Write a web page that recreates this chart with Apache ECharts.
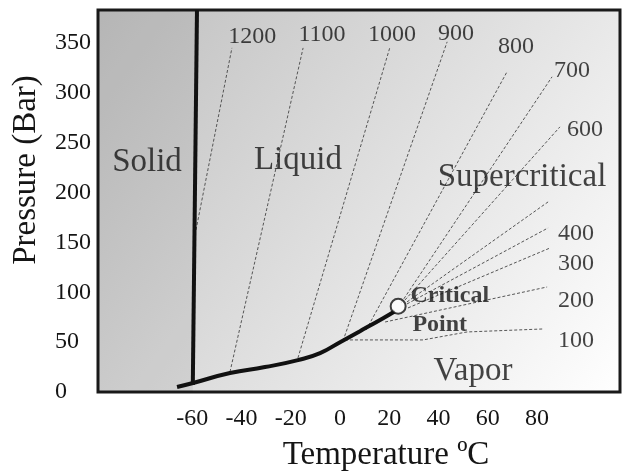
<!DOCTYPE html>
<html>
<head>
<meta charset="utf-8">
<script src="https://cdn.jsdelivr.net/npm/echarts@6/dist/echarts.min.js"></script>
<style>
html, body { margin: 0; padding: 0; background: #fff; }
#main { width: 624px; height: 473px; }
</style>
</head>
<body>
<div id="main"></div>
<script>
// tick labels
var tempTicks = [-60, -40, -20, 0, 20, 40, 60, 80];
var pressTicks = [0, 50, 100, 150, 200, 250, 300, 350];

// phase boundaries (T in degC, P in bar)
var meltLine = [[-59.8, 7], [-58.1, 383]];
var vaporCurve = [[-66.2, 5], [-59.7, 9], [-44.7, 19], [-30.5, 25], [-17.1, 32],
                  [-8.1, 39], [0, 50], [8.1, 61], [17.5, 74], [22.3, 81]];
var criticalPoint = [[23.6, 86]];
var solidRegion = [[-98.3, 0], [-59.8, 0], [-58.1, 383], [-98.3, 383]];

// isochores (density lines)
var iso1200 = [[-58.5, 162.5], [-43.9, 345]];
var iso1100 = [[-44.7, 20.1], [-15.0, 345]];
var iso1000 = [[-17.1, 34.1], [20.3, 346]];
var iso900 = [[1.2, 51.2], [43.5, 351.1]];
var iso800 = [[10.6, 62.2], [67.8, 321]];
var iso700 = [[24.8, 89.3], [86.1, 316]];
var iso600 = [[26.4, 92.3], [89.3, 265.8]];
var iso500 = [[27.2, 90.3], [84.5, 190.6]];
var iso400 = [[27.2, 88.3], [84.5, 164.5]];
var iso300 = [[27.6, 84.3], [85.3, 144.4]];
var iso200 = [[18.3, 70.2], [84.1, 105.3]];
var iso100 = [[2.0, 52.2], [33.7, 52.2], [51.6, 60.2], [82.4, 63.2]];
var isochores = [iso1200, iso1100, iso1000, iso900, iso800, iso700,
                 iso600, iso500, iso400, iso300, iso200, iso100];

// labels [text, T, P]
var isoLabels = [['1200', -35.7, 356.1], ['1100', -7.3, 358.1], ['1000', 21.1, 358.1],
                 ['900', 47.1, 359.1], ['800', 71.5, 346], ['700', 94.2, 322],
                 ['600', 99.5, 262.8], ['400', 95.8, 158.5], ['300', 95.8, 128.4],
                 ['200', 95.8, 91.3], ['100', 95.8, 51.2]];
var regionLabels = [['Solid', -78.4, 230.2], ['Liquid', -17.1, 232.7],
                    ['Supercritical', 73.9, 215.1], ['Vapor', 54.0, 20.6]];
var pointLabels = [['Critical', 28.4, 96.8], ['Point', 29.2, 67.7]];

var serif = "'Liberation Serif', 'Times New Roman', serif";
var myChart = echarts.init(document.getElementById('main'));

function labelSeries(rows, size, weight, pos) {
  return {
    type: 'scatter',
    silent: true,
    symbolSize: 1,
    itemStyle: { color: 'rgba(0,0,0,0)' },
    data: rows.map(function (r) { return [r[1], r[2], r[0]]; }),
    label: {
      show: true,
      position: pos,
      distance: 0,
      formatter: function (p) { return p.value[2]; },
      color: '#151515',
      fontFamily: serif,
      fontSize: size,
      fontWeight: weight
    },
    z: 10
  };
}

var series = [];

// darker solid region
series.push({
  type: 'custom',
  silent: true,
  data: [0],
  renderItem: function (params, api) {
    return {
      type: 'polygon',
      shape: { points: solidRegion.map(function (p) { return api.coord(p); }) },
      style: { fill: 'rgba(0,0,0,0.05)' }
    };
  },
  z: 1
});

isochores.forEach(function (line) {
  series.push({
    type: 'line',
    silent: true,
    symbol: 'none',
    data: line,
    lineStyle: { color: '#555', width: 1, type: [3, 2] },
    z: 2
  });
});

series.push({
  type: 'line', silent: true, symbol: 'none', data: meltLine,
  lineStyle: { color: '#111', width: 4 }, z: 3
});
series.push({
  type: 'line', silent: true, symbol: 'none', smooth: true, data: vaporCurve,
  lineStyle: { color: '#111', width: 4 }, z: 3
});
series.push({
  type: 'scatter', silent: true, symbol: 'circle', symbolSize: 15, data: criticalPoint,
  itemStyle: { color: '#fff', borderColor: '#111', borderWidth: 2 }, z: 4
});

series.push(labelSeries(isoLabels, 24, 'normal', 'inside'));
series.push(labelSeries(regionLabels, 33, 'normal', 'inside'));
series.push(labelSeries(pointLabels, 24, 'bold', 'right'));

var option = {
  animation: false,
  backgroundColor: '#fff',
  grid: {
    left: 98, right: 4, top: 10, bottom: 81,
    outerBoundsMode: 'none',
    containLabel: false,
    show: true,
    borderColor: '#1a1a1a',
    borderWidth: 3,
    backgroundColor: new echarts.graphic.LinearGradient(0, 0, 1, 1, [
      { offset: 0, color: '#bfbfbf' },
      { offset: 1, color: '#ffffff' }
    ])
  },
  xAxis: {
    type: 'value',
    min: -98.3,
    max: 113.7,
    name: 'Temperature ºC',
    nameLocation: 'middle',
    nameGap: 47,
    nameTextStyle: { fontFamily: serif, fontSize: 33, color: '#151515', padding: [0, 0, 0, 54] },
    axisLine: { show: false },
    axisTick: { show: false },
    splitLine: { show: false },
    axisLabel: {
      customValues: tempTicks,
      margin: 15,
      fontFamily: serif,
      fontSize: 24,
      color: '#151515'
    }
  },
  yAxis: {
    type: 'value',
    min: 0,
    max: 383,
    name: 'Pressure (Bar)',
    nameLocation: 'middle',
    nameGap: 55,
    nameRotate: 90,
    nameTextStyle: { fontFamily: serif, fontSize: 33, color: '#151515', padding: [0, 0, 0, 62] },
    axisLine: { show: false },
    axisTick: { show: false },
    splitLine: { show: false },
    axisLabel: {
      customValues: pressTicks,
      align: 'left',
      margin: 43,
      fontFamily: serif,
      fontSize: 24,
      color: '#151515'
    }
  },
  series: series
};

myChart.setOption(option);
</script>
</body>
</html>
